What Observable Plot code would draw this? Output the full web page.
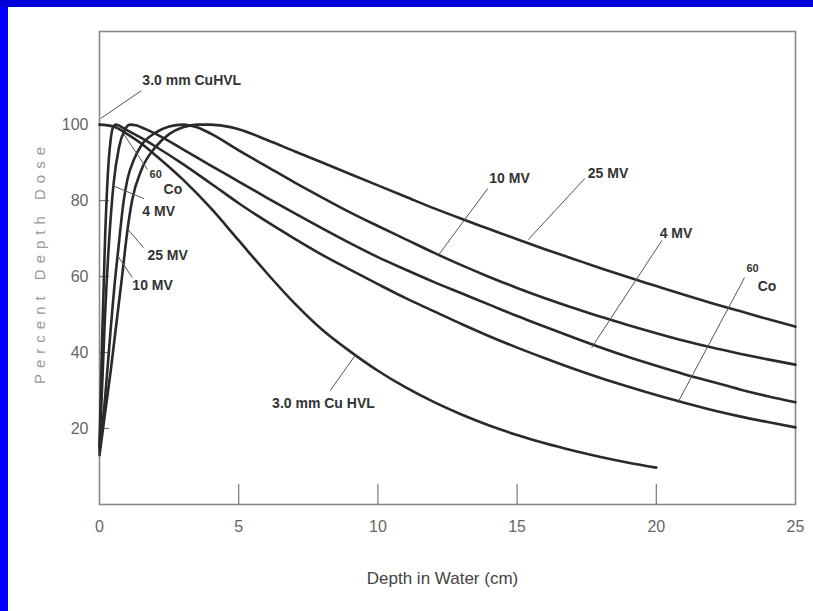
<!DOCTYPE html>
<html><head><meta charset="utf-8">
<script src="https://cdn.jsdelivr.net/npm/d3@7"></script>
<script src="https://cdn.jsdelivr.net/npm/@observablehq/plot@0.6"></script>
<style>
html,body{margin:0;padding:0;background:#fff;}
#wrap{position:relative;width:813px;height:611px;overflow:hidden;background:#fff;}
#bl{position:absolute;left:0;top:0;width:8px;height:611px;background:#0000ff;}
#bt{position:absolute;left:0;top:0;width:813px;height:7px;background:#0000dd;}
#chart{position:absolute;left:0;top:0;}
</style></head>
<body><div id="wrap"><div id="chart"></div><div id="bl"></div><div id="bt"></div></div>
<script>
// Depth (cm) and percent depth dose for each beam
const co60Depth = [0,0.1,0.2,0.3,0.4,0.5,0.6,0.8,1,1.5,2,3,4,5,6,7,8,9,10,11,12,13,14,15,16,17,18,19,20,21,22,23,24,25];
const co60Dose  = [15,45,70,87,96,99.5,100,99.3,98.5,96.5,94.3,89.6,84.5,79.3,74.5,70,65.7,61.8,58,54.3,50.9,47.5,44.3,41.3,38.5,35.8,33.3,31,28.8,26.8,24.9,23.2,21.7,20.3];

const mv4Depth = [0,0.1,0.2,0.35,0.5,0.7,0.9,1.1,1.3,1.5,2,3,4,5,6,7,8,9,10,11,12,13,14,15,16,17,18,19,20,21,22,23,24,25];
const mv4Dose  = [15,32,50,70,84,94,98.5,100,99.8,99.3,97.6,93.5,89.2,85,80.8,76.7,72.7,68.8,65.1,61.8,58.6,55.6,52.6,49.6,46.8,44,41.3,38.8,36.5,34.3,32.3,30.3,28.5,26.9];

const mv10Depth = [0,0.2,0.4,0.57,0.65,0.87,1,1.25,1.5,2,2.5,3,3.5,4,5,6,7,8,9,10,11,12,13,14,15,16,17,18,19,20,21,22,23,24,25];
const mv10Dose  = [14,28,46,60,65.5,80,85.5,91,94.5,97.8,99.5,100,99.3,97.6,93.2,89,84.8,80.8,76.9,73.3,69.8,66.3,63,59.9,57,54.3,51.8,49.4,47.2,45.1,43.1,41.3,39.7,38.2,36.8];

const mv25Depth = [0,0.4,0.81,1,1.17,1.5,2,2.5,3,3.5,4,4.5,5,6,7,8,9,10,11,12,13,14,15,16,17,18,19,20,21,22,23,24,25];
const mv25Dose  = [13,35,60,72,80,88,94,97.5,99.3,100,100,99.6,98.8,96,93,90,87,84,81,78,75.2,72.5,69.8,67.2,64.7,62.2,59.8,57.5,55.2,53,50.9,48.8,46.8];

const cuDepth = [0,0.5,1,1.5,2,3,4,5,6,7,8,9,10,11,12,13,14,15,16,17,18,19,20];
const cuDose  = [100,99.5,97.5,95,92,85.5,78,69.5,61,53,46,40.3,35.2,30.8,27,23.7,20.8,18.3,16.1,14.2,12.5,11,9.7];

const xTicks = [0,5,10,15,20,25];
const yTicks = [20,40,60,80,100];
const yTickMarks = [20,40,60,80];
const xTitle = "Depth in Water (cm)";
const yTitle = "Percent Depth Dose";

// Annotation labels (anchor at left of text) and pointer lines
const labelText = ["3.0 mm CuHVL","60","Co","4 MV","25 MV","10 MV","3.0 mm Cu HVL","10 MV","25 MV","4 MV","60","Co"];
const labelX    = [1.54,1.8,2.3,1.54,1.72,1.18,6.2,14.0,17.54,20.12,23.24,23.64];
const labelY    = [111.6,86.8,83,77,65.5,57.6,26.6,85.8,87.1,71.3,62.1,57.4];
const labelSize = [14,11,14,14,14,14,14,14,14,14,11,14];

const ptrX1 = [1.5,1.72,1.6,1.58,1.18,8.29,13.95,17.43,20.2,23.17];
const ptrY1 = [108.9,88.2,80.5,67.6,59.7,30,83.2,85.8,69.5,59.7];
const ptrX2 = [0.04,0.86,0.45,1.0,0.65,9.18,12.16,15.4,17.68,20.77];
const ptrY2 = [101.6,97.6,84,72.6,65.5,39.2,65.5,69.7,41.3,26.8];

const series = [
  ["Co-60", co60Depth, co60Dose],
  ["4 MV", mv4Depth, mv4Dose],
  ["10 MV", mv10Depth, mv10Dose],
  ["25 MV", mv25Depth, mv25Dose],
  ["3.0 mm Cu HVL", cuDepth, cuDose]
];
const rows = series.flatMap(([name, xs, ys]) => xs.map((d, i) => ({series: name, depth: d, dose: ys[i]})));
const labels = labelText.map((t, i) => ({text: t, x: labelX[i], y: labelY[i], size: labelSize[i]}));
const pointers = ptrX1.map((d, i) => ({x1: d, y1: ptrY1[i], x2: ptrX2[i], y2: ptrY2[i]}));

const chart = Plot.plot({
  width: 813, height: 611,
  marginLeft: 99, marginRight: 18, marginTop: 31, marginBottom: 107,
  x: {domain: [0, 25]},
  y: {domain: [0, 124.5]},
  style: {fontFamily: "'Liberation Sans', Arial, sans-serif", background: "transparent", overflow: "visible"},
  marks: [
    Plot.frame({stroke: "#888", strokeWidth: 1.6}),
    Plot.tickX(xTicks.slice(1, -1), {x: d => d, insetTop: 453, stroke: "#777", strokeWidth: 1.2}),
    Plot.tickY(yTickMarks, {y: d => d, insetRight: 686, stroke: "#777", strokeWidth: 1.2}),
    Plot.axisX({ticks: xTicks, tickSize: 0, tickPadding: 16, fontSize: 16, fill: "#666", label: null}),
    Plot.axisY({ticks: yTicks, tickSize: 0, tickPadding: 11, fontSize: 16, fill: "#666", label: null}),
    Plot.line(rows, {x: "depth", y: "dose", z: "series", stroke: "#2a2a2a", strokeWidth: 2.6, curve: "monotone-x"}),
    Plot.link(pointers, {x1: "x1", y1: "y1", x2: "x2", y2: "y2", stroke: "#555", strokeWidth: 1}),
    Plot.text(labels, {x: "x", y: "y", text: "text", textAnchor: "start", fontSize: d => d.size, fontWeight: "bold", fill: "#333"}),
    Plot.text([yTitle], {frameAnchor: "left", textAnchor: "middle", lineAnchor: "middle", rotate: -90, dx: -59, dy: -5.5, fill: "#999", fontSize: 15}),
    Plot.text([xTitle], {frameAnchor: "bottom", textAnchor: "middle", lineAnchor: "middle", dx: -5, dy: 74, fill: "#444", fontSize: 17})
  ]
});
d3.select(chart).selectAll("text").filter(function() { return this.textContent === yTitle; }).attr("letter-spacing", "6px");
document.getElementById("chart").appendChild(chart);
</script>
</body></html>
